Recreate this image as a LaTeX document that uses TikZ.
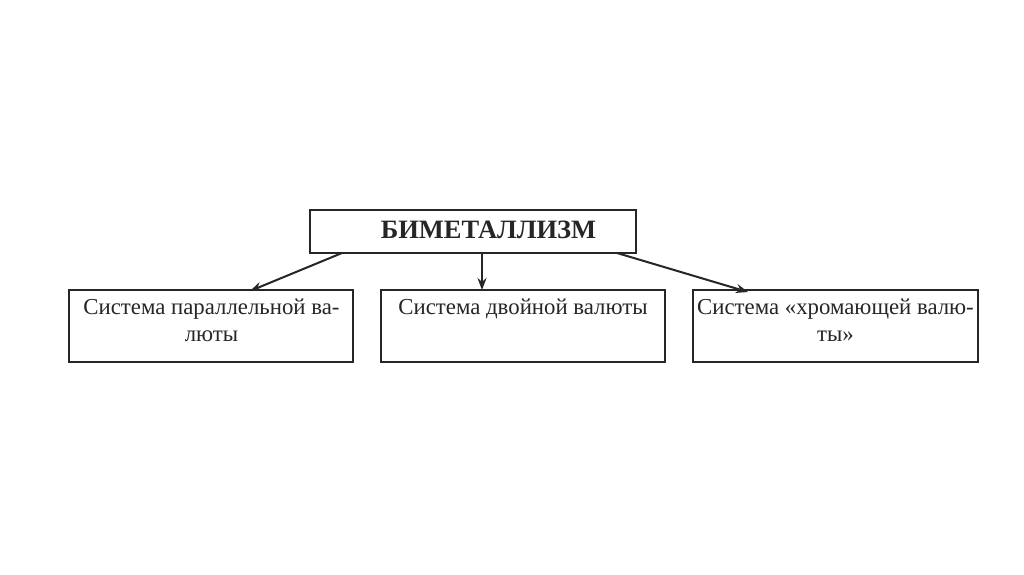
\documentclass[tikz,border=0pt]{standalone}
\usepackage{fontspec}
\setmainfont{Liberation Serif}
\usetikzlibrary{arrows.meta}
\begin{document}
\begin{tikzpicture}[x=1pt,y=-1pt,
  boxst/.style={draw=black!85,line width=2.2pt,inner sep=0pt},
  txt/.style={anchor=north,align=center,font=\fontsize{22.8}{27}\selectfont,inner sep=0pt,text=black!85},
  arr/.style={line width=2pt,draw=black!85,-{Stealth[length=12pt,width=9pt]}}]
\useasboundingbox[fill=white] (0,0) rectangle (1024,574);
\node[boxst,minimum width=326pt,minimum height=43pt] (top) at (473,231.5) {};
\node[font=\fontsize{26.5}{30}\selectfont\bfseries,inner sep=0pt,text=black!85] (toptxt) at (488.5,229.5) {БИМЕТАЛЛИЗМ};
\node[boxst,minimum width=284pt,minimum height=72pt] (b1) at (211,326) {};
\node[boxst,minimum width=284pt,minimum height=72pt] (b2) at (523,326) {};
\node[boxst,minimum width=285pt,minimum height=72pt] (b3) at (835.5,326) {};
\node[txt] (t1) at (211.5,299) {Система параллельной ва-\\люты};
\node[txt] (t2) at (523,299) {Система двойной валюты};
\node[txt] (t3) at (835.5,299) {Система «хромающей валю-\\ты»};
\coordinate (s1) at (342,253);
\coordinate (e1) at (250,291);
\coordinate (s2) at (482,253);
\coordinate (e2) at (482,290);
\coordinate (s3) at (617,253);
\coordinate (e3) at (748,292);
\draw[arr] (s1) -- (e1);
\draw[arr] (s2) -- (e2);
\draw[arr] (s3) -- (e3);
\end{tikzpicture}
\end{document}
